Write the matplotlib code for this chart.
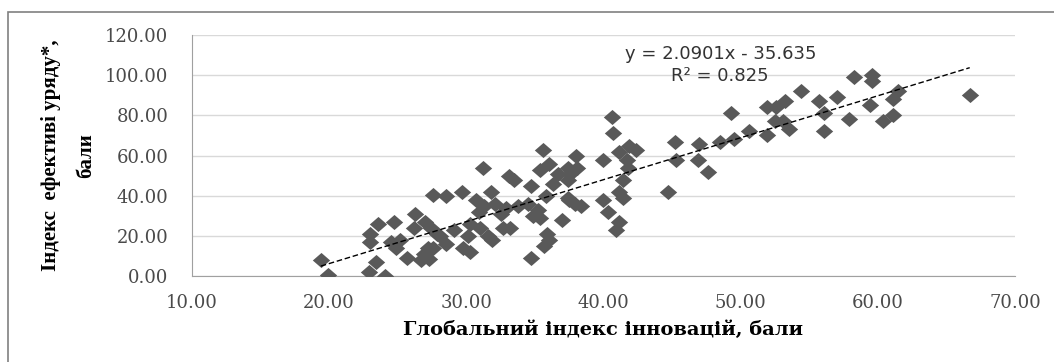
import matplotlib.pyplot as plt
from matplotlib.patches import Rectangle
from matplotlib.path import Path

# Глобальний індекс інновацій (x) та індекс ефективності уряду (y), бали
gii = [19.4, 19.9, 23.0, 23.6, 24.7, 23.4, 22.9, 24.1, 23.0, 25.2, 26.3, 27.0,
       26.2, 25.7, 26.7, 27.3, 27.6, 27.2, 27.9, 24.5, 24.9,
       35.6, 31.2, 33.1, 33.5, 34.7, 28.5, 29.7, 31.8, 30.7, 31.3, 30.9,
       36.0, 35.4, 36.7, 37.4, 36.3, 35.8, 34.5, 35.2, 34.9, 35.4, 37.0,
       32.7, 33.2, 35.9, 36.0, 35.7, 34.7, 31.6, 31.9, 30.1, 29.8, 30.3,
       31.0, 30.3, 29.1, 28.1, 28.5, 27.6, 26.9, 27.4, 32.5, 32.9, 32.1, 33.8,
       40.6, 40.7, 41.9, 42.4, 41.1, 40.0, 41.7, 41.8, 41.4, 38.0, 38.1,
       37.6, 37.4, 37.4, 37.9, 38.4, 37.5, 40.0, 40.3, 41.1, 41.4, 41.1,
       40.9, 45.2, 45.3, 44.7, 47.0, 46.9, 47.6,
       49.3, 48.5, 49.5, 50.6, 51.9, 51.9, 52.6, 53.2, 52.5, 53.1, 53.5,
       54.4, 55.7, 57.0, 56.1, 56.1, 57.9,
       58.3, 59.6, 59.6, 59.4, 60.4, 61.1, 61.1, 61.5, 66.7]
gov = [8, 0.5, 21, 26, 27, 7, 2, 0, 17, 18, 31, 27,
       24, 9, 8, 8.5, 40.5, 14, 21, 17, 14,
       63, 54, 50, 48, 45, 40, 42, 42, 38, 35, 32,
       56, 53, 51, 54, 46, 40, 36, 33, 30, 29, 28,
       24, 24, 21, 18, 15, 9, 20, 18, 20, 14, 12,
       24, 26, 23, 20, 16, 14, 11, 24, 31, 34, 36, 35,
       79, 71, 65, 63, 62, 58, 58, 54, 48, 60, 54,
       51, 48, 39, 36, 35, 38, 38, 32, 42, 39, 27,
       23, 67, 58, 42, 66, 58, 52,
       81, 67, 68, 72, 70, 84, 84, 87, 77, 77, 73,
       92, 87, 89, 81, 72, 78,
       99, 100, 97, 85, 77, 80, 88, 92, 90]

slope = 2.0901
intercept = -35.635
r2 = 0.825

# slightly wide diamond, as in the scanned chart
wide_diamond = Path([(-1.15, 0), (0, 1), (1.15, 0), (0, -1), (-1.15, 0)],
                    [Path.MOVETO, Path.LINETO, Path.LINETO, Path.LINETO, Path.CLOSEPOLY])

fig = plt.figure(figsize=(10.54, 3.62), dpi=100)
fig.patches.append(Rectangle((0.0076, -0.02), 1.1, 0.987, transform=fig.transFigure,
                             fill=False, edgecolor="#808080", linewidth=1.2))
ax = fig.add_axes([0.182, 0.2376, 0.781, 0.6654])

ax.plot(gii, gov, linestyle="none", marker=wide_diamond, markersize=12.5,
        color="#595959", markeredgewidth=0, zorder=3)

x0, x1 = min(gii), max(gii)
ax.plot([x0, x1], [slope * x0 + intercept, slope * x1 + intercept],
        linestyle=(0, (4, 2)), color="black", linewidth=1, zorder=4)

ax.text(0.526, 0.92, f"y = {slope}x - {intercept * -1}", transform=ax.transAxes,
        ha="left", va="center", fontsize=13, color="#333333", family="DejaVu Sans")
ax.text(0.642, 0.83, f"R² = {r2}", transform=ax.transAxes,
        ha="center", va="center", fontsize=13, color="#333333", family="DejaVu Sans")

ax.set_xlim(10, 70)
ax.set_ylim(0, 120)
ax.set_xticks(range(10, 71, 10))
ax.set_yticks(range(0, 121, 20))
ax.set_xticklabels([f"{v:.2f}" for v in range(10, 71, 10)])
ax.set_yticklabels([f"{v:.2f}" for v in range(0, 121, 20)])
ax.tick_params(length=0, labelsize=13, labelcolor="#4a4a4a")
ax.tick_params(axis="x", pad=13)
ax.tick_params(axis="y", pad=17)
for lbl in ax.get_xticklabels() + ax.get_yticklabels():
    lbl.set_family("DejaVu Serif")

ax.grid(axis="y", color="#d9d9d9", linewidth=1)
ax.set_axisbelow(True)
for side in ["top", "right"]:
    ax.spines[side].set_visible(False)
for side in ["left", "bottom"]:
    ax.spines[side].set_color("#a0a0a0")

ax.set_xlabel("Глобальний індекс інновацій, бали", family="DejaVu Serif",
              fontweight="bold", fontsize=14, labelpad=6)
ax.set_ylabel("Індекс  ефективі уряду*,\nбали", family="Liberation Serif",
              fontweight="bold", fontsize=15, labelpad=6.5, linespacing=2.0)

fig.savefig("out.png", dpi=100)
